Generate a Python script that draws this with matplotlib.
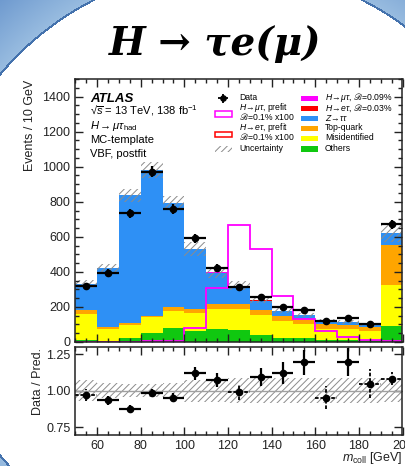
import numpy as np
import matplotlib
matplotlib.use('Agg')
import matplotlib.pyplot as plt
from matplotlib.patches import Rectangle
from matplotlib.ticker import MultipleLocator, FixedLocator, FormatStrFormatter

plt.rcParams['font.family'] = ['Liberation Sans', 'DejaVu Sans']
plt.rcParams['mathtext.fontset'] = 'custom'
plt.rcParams['mathtext.rm'] = 'Liberation Sans'
plt.rcParams['mathtext.it'] = 'Liberation Sans:italic'
plt.rcParams['mathtext.bf'] = 'Liberation Sans:bold'
plt.rcParams['mathtext.fallback'] = 'stix'
plt.rcParams['hatch.linewidth'] = 0.7
plt.rcParams['hatch.color'] = '#8c8c8c'

# ---------------- data ----------------
bin_edges = [50, 60, 70, 80, 90, 100, 110, 120, 130, 140, 150, 160, 170, 180, 190, 200]
data = [320, 395, 734, 970, 757, 591, 423, 313, 257, 198, 183, 118, 137, 103, 672]
data_err = [18, 20, 27, 31, 28, 24, 21, 18, 16, 14, 14, 11, 12, 10, 26]
others = [12, 6, 23, 52, 80, 63, 76, 71, 42, 23, 23, 10, 10, 10, 92]
misid = [150, 66, 76, 91, 95, 105, 115, 116, 114, 95, 82, 66, 62, 53, 232]
top_quark = [23, 12, 10, 8, 25, 23, 28, 28, 29, 29, 29, 29, 27, 23, 229]
ztautau = [145, 339, 727, 829, 595, 337, 174, 100, 51, 29, 18, 17, 16, 13, 69]
h_etau = [0, 0, 0, 0, 0, 0, 1, 1, 1, 1, 0, 0, 0, 0, 0]
h_mutau = [0, 0, 0, 0, 0, 1, 3, 6, 5, 2, 1, 1, 0, 0, 0]
mutau_prefit = [0, 0, 0, 3, 6, 80, 309, 665, 528, 263, 130, 61, 29, 14, 3]
rel_unc = [0.07, 0.05, 0.045, 0.045, 0.05, 0.075, 0.075, 0.085, 0.085, 0.085, 0.085, 0.085, 0.085, 0.085, 0.08]
ratio = [0.973, 0.935, 0.878, 0.986, 0.953, 1.119, 1.074, 0.99, 1.092, 1.124, 1.193, 0.953, 1.193, 1.047, 1.081]
ratio_err = [0.04, 0.03, 0.025, 0.025, 0.03, 0.043, 0.05, 0.055, 0.06, 0.075, 0.084, 0.08, 0.095, 0.1, 0.045]
dashed_bins = [0, 7, 11, 13, 14]

# stack order bottom -> top
stack_labels = ['Others', 'Misidentified', 'Top-quark', r'$Z\!\rightarrow\!\tau\tau$',
                r'$H\!\rightarrow\!e\tau$, $ℬ$=0.03%', r'$H\!\rightarrow\!\mu\tau$, $ℬ$=0.09%']
stack_values = [others, misid, top_quark, ztautau, h_etau, h_mutau]
stack_colors = ['#10c810', '#ffff00', '#ffa500', '#2e90f5', '#ff0000', '#ff00ff']

W, H = 406, 466
fig = plt.figure(figsize=(W / 100, H / 100), dpi=100)

def fx(px):
    return px / W

def fy(py):
    return 1 - py / H

# ---------------- background decoration ----------------
bg = fig.add_axes([0, 0, 1, 1], zorder=-10)
yy, xx = np.mgrid[0:H, 0:W] + 0.5
cx, cy, R = 228.0, 265.0, 297.0
d = np.hypot(xx - cx, yy - cy)
img = np.ones((H, W, 3))
t = np.clip((d - R) / 70.0, 0, 1)[..., None]
light = np.array([0.60, 0.74, 0.88])
dark = np.array([0.38, 0.56, 0.79])
blue = light * (1 - t) + dark * t
mask = d > R
img[mask] = blue[mask]
img[np.abs(d - R) < 1.1] = [0.27, 0.45, 0.68]
bg.imshow(img, extent=[0, W, H, 0], aspect='auto', interpolation='bilinear')
bg.axis('off')

fig.text(fx(215), fy(44), 'H → τe(μ)', fontsize=28, fontweight='bold', style='italic',
         family='DejaVu Serif', ha='center', va='center')

# ---------------- main panel ----------------
left, right = 75.25, 402.5
ax = fig.add_axes([fx(left), fy(342), (right - left) / W, (342 - 79) / H])
ax2 = fig.add_axes([fx(left), fy(434.7), (right - left) / W, (434.7 - 346.7) / H])

edges = np.array(bin_edges, dtype=float)
centers = 0.5 * (edges[:-1] + edges[1:])
cum = np.zeros(len(data))
for vals, col in zip(stack_values, stack_colors):
    v = np.array(vals, dtype=float)
    ax.stairs(cum + v, edges, baseline=cum.copy(), fill=True, color=col, lw=0)
    cum = cum + v
total = cum
unc = np.array(rel_unc)
ax.stairs(total * (1 + unc), edges, baseline=total * (1 - unc), fill=True,
          facecolor='none', edgecolor='#8c8c8c', hatch='/////', lw=0)
ax.stairs(mutau_prefit, edges, color='#ff00ff', lw=1.3)
ax.errorbar(centers, data, xerr=5, yerr=data_err, fmt='o', color='black', ms=4.5,
            elinewidth=1.6, capsize=0)

ax.set_xlim(50, 200)
ax.set_ylim(0, 1500)
ax.xaxis.set_major_locator(MultipleLocator(20))
ax.xaxis.set_minor_locator(MultipleLocator(5))
ax.yaxis.set_major_locator(MultipleLocator(200))
ax.yaxis.set_minor_locator(MultipleLocator(50))
ax.tick_params(axis='both', which='both', direction='in', top=True, right=True,
               labelsize=9, pad=3.5, width=1.0, colors='#222222', labelcolor='#222222')
ax.tick_params(which='major', length=5.5)
ax.tick_params(which='minor', length=3)
ax.tick_params(axis='x', labelbottom=False)
for s in ax.spines.values():
    s.set_linewidth(1.1)
    s.set_color('#222222')

# ---------------- ratio panel ----------------
ax2.stairs(1 + unc, edges, baseline=1 - unc, fill=True, facecolor='none',
           edgecolor='#8c8c8c', hatch='/////', lw=0)
ax2.axhline(1.0, color='#a0a0a0', lw=1.0)
solid = [i for i in range(len(ratio)) if i not in dashed_bins]
r = np.array(ratio)
re = np.array(ratio_err)
ax2.errorbar(centers[solid], r[solid], xerr=5, yerr=re[solid], fmt='o', color='black',
             ms=4.5, elinewidth=1.6, capsize=0)
eb = ax2.errorbar(centers[dashed_bins], r[dashed_bins], xerr=5, yerr=re[dashed_bins], fmt='o',
                  color='black', ms=4.5, elinewidth=1.3, capsize=0)
for lc in eb[2]:
    lc.set_linestyle((0, (2, 1)))
ax2.set_xlim(50, 200)
ax2.set_ylim(0.7, 1.3)
ax2.xaxis.set_major_locator(MultipleLocator(20))
ax2.xaxis.set_minor_locator(MultipleLocator(5))
ax2.yaxis.set_major_locator(FixedLocator([0.75, 1.0, 1.25]))
ax2.yaxis.set_major_formatter(FormatStrFormatter('%.2f'))
ax2.tick_params(axis='both', which='both', direction='in', top=True, right=True,
                labelsize=9, pad=3.5, width=1.0, colors='#222222', labelcolor='#222222')
ax2.tick_params(which='major', length=5.5)
ax2.tick_params(which='minor', length=3)
for s in ax2.spines.values():
    s.set_linewidth(1.1)
    s.set_color('#222222')

fig.text(fx(30), fy(80), 'Events / 10 GeV', rotation=90, ha='center', va='top', fontsize=9,
         color='#222222')
fig.text(fx(38), fy(348), 'Data / Pred.', rotation=90, ha='center', va='top', fontsize=9,
         color='#222222')
fig.text(fx(402), fy(458), r'$m_{\mathrm{coll}}$ [GeV]', ha='right', va='center', fontsize=9,
         color='#222222')

# ---------------- annotations ----------------
fig.text(fx(90), fy(101.5), 'ATLAS', fontsize=9.5, fontweight='bold', style='italic',
         va='baseline')
fig.text(fx(90), fy(114), r'√$\overline{s}$ = 13 TeV, 138 fb$^{-1}$', fontsize=8, va='baseline')
fig.text(fx(90), fy(129), r'$H \rightarrow \mu\tau_{\mathrm{had}}$', fontsize=8, va='baseline')
fig.text(fx(90), fy(143), 'MC-template', fontsize=8, va='baseline')
fig.text(fx(90), fy(156.7), 'VBF, postfit', fontsize=8, va='baseline')

# ---------------- legend ----------------
lg = fig.add_axes([0, 0, 1, 1], zorder=10)
lg.set_xlim(0, W)
lg.set_ylim(H, 0)
lg.axis('off')
lg.patch.set_alpha(0)
fs = 6.2

def ltext(x, y, s):
    lg.text(x, y, s, fontsize=fs, va='baseline')

# left column (baselines = centre + 2.2 px)
lg.errorbar([223.5], [98], xerr=[[5]], yerr=[[4.5]], fmt='o', color='black', ms=3.8,
            elinewidth=1.3, capsize=0)
ltext(239.5, 100.5, 'Data')
lg.add_patch(Rectangle((215.5, 111), 17, 5.5, facecolor='none', edgecolor='#ff00ff', lw=1.1))
ltext(239.5, 110.5, r'$H\!\rightarrow\!\mu\tau$, prefit')
ltext(239.5, 120.5, r'$ℬ$=0.1% x100')
lg.add_patch(Rectangle((215.5, 131.5), 17, 5.5, facecolor='none', edgecolor='#ff0000', lw=1.1))
ltext(239.5, 130.5, r'$H\!\rightarrow\!e\tau$, prefit')
ltext(239.5, 140.5, r'$ℬ$=0.1% x100')
lg.add_patch(Rectangle((215.5, 146), 17, 5.5, facecolor='none', edgecolor='#8c8c8c',
                       hatch='/////', lw=0))
ltext(239.5, 151.2, 'Uncertainty')
# right column (stack entries, top to bottom)
right_rows = [98.3, 108.3, 118.5, 128.3, 138.3, 149]
for yrow, label, col in zip(right_rows, stack_labels[::-1], stack_colors[::-1]):
    lg.add_patch(Rectangle((301, yrow - 2.8), 17, 5.6, facecolor=col, edgecolor='none'))
    ltext(325, yrow + 2.2, label)

fig.savefig('out.png', dpi=100)
